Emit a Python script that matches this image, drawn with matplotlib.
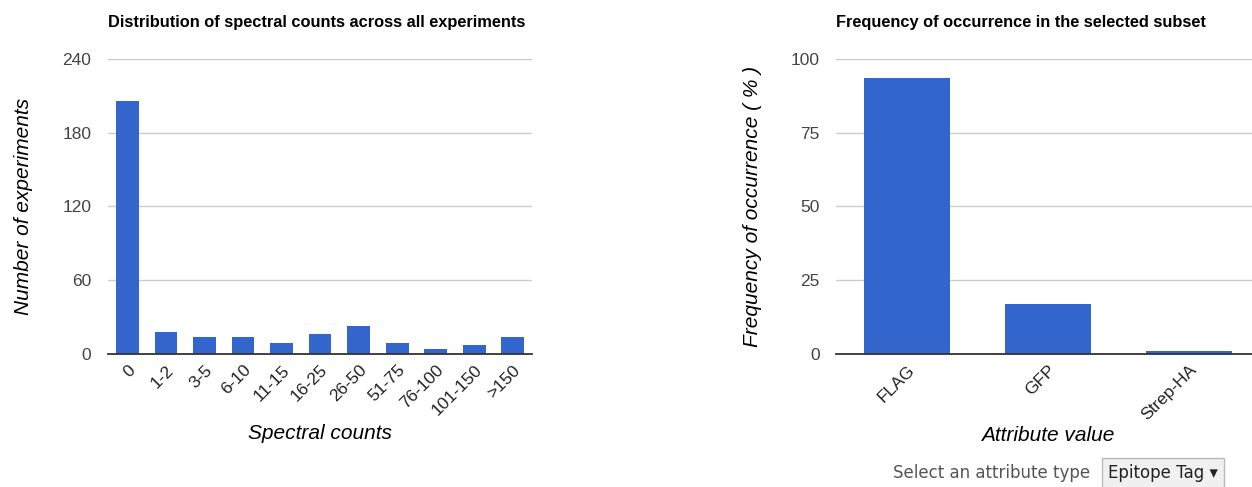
import matplotlib.pyplot as plt
import numpy as np

plt.rcParams['font.family'] = ['Liberation Sans', 'DejaVu Sans']

# Данные: распределение спектральных счетов
count_bins = ['0', '1-2', '3-5', '6-10', '11-15', '16-25', '26-50',
              '51-75', '76-100', '101-150', '>150']
experiments = [206, 18, 14, 14, 9, 16, 23, 9, 4, 7, 14]

# Данные: частота встречаемости в выбранном подмножестве
attr_values = ['FLAG', 'GFP', 'Strep-HA']
frequency = [93.7, 16.8, 1.0]

bar_color = '#3366cc'
tick_color = '#444444'

fig = plt.figure(figsize=(12.52, 4.87), dpi=100)
ax1 = fig.add_axes([0.0863, 0.2731, 0.3387, 0.6058])
ax2 = fig.add_axes([0.6681, 0.2731, 0.3379, 0.6058])


def style_axes(ax, ymax, yticks):
    ax.set_ylim(0, ymax)
    ax.set_yticks(yticks)
    ax.grid(axis='y', color='#cccccc', linewidth=1)
    ax.set_axisbelow(True)
    for side in ['top', 'right', 'left']:
        ax.spines[side].set_visible(False)
    ax.spines['bottom'].set_color('#333333')
    ax.spines['bottom'].set_linewidth(1.3)
    ax.tick_params(axis='both', length=0, colors=tick_color, labelsize=12.5)
    ax.tick_params(axis='y', pad=12)


# Левый график
x1 = np.arange(len(count_bins))
ax1.bar(x1, experiments, width=0.59, color=bar_color)
ax1.set_xlim(-0.5, len(count_bins) - 0.5)
style_axes(ax1, 240, [0, 60, 120, 180, 240])
ax1.set_xticks(x1)
ax1.set_xticklabels(count_bins, rotation=45, ha='right', rotation_mode='anchor')
ax1.tick_params(axis='x', colors='#222222', pad=6)
ax1.set_title('Distribution of spectral counts across all experiments',
              fontsize=11.8, fontweight='bold', loc='left', x=0.0, pad=23)
ax1.set_xlabel('Spectral counts', fontsize=15, style='italic', labelpad=4)
ax1.set_ylabel('Number of experiments', fontsize=15, style='italic', labelpad=21)

# Правый график
x2 = np.arange(len(attr_values))
ax2.bar(x2, frequency, width=0.61, color=bar_color)
ax2.set_xlim(-0.5, len(attr_values) - 0.5)
style_axes(ax2, 100, [0, 25, 50, 75, 100])
ax2.set_xticks(x2)
ax2.set_xticklabels(attr_values, rotation=45, ha='right', rotation_mode='anchor')
ax2.tick_params(axis='x', colors='#222222', pad=6)
ax2.set_title('Frequency of occurrence in the selected subset',
              fontsize=11.8, fontweight='bold', loc='left', x=0.0, pad=23)
ax2.set_xlabel('Attribute value', fontsize=15, style='italic', labelpad=2)
ax2.set_ylabel('Frequency of occurrence ( % )', fontsize=15, style='italic', labelpad=21)

# Выбор типа атрибута внизу
fig.text(0.713, 0.029, 'Select an attribute type', fontsize=12, color='#555555',
         family='DejaVu Sans', va='center')
fig.text(0.885, 0.029, 'Epitope Tag \u25BE', fontsize=12, color='#222222',
         family='DejaVu Sans', va='center',
         bbox=dict(boxstyle='square,pad=0.35', facecolor='#f0f0f0', edgecolor='#bbbbbb'))

fig.savefig('out.png', dpi=100)
